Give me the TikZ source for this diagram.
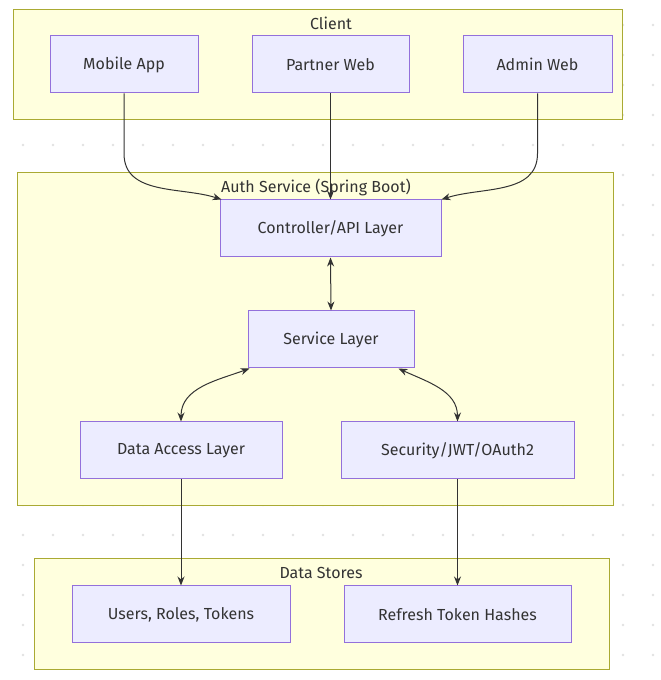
\documentclass[tikz,border=0pt]{standalone}
\usepackage{fontspec}
\setmainfont{Fira Sans}
\usetikzlibrary{arrows.meta}

\definecolor{grpfill}{HTML}{FFFFDE}
\definecolor{grpline}{HTML}{AAAA33}
\definecolor{boxfill}{HTML}{ECECFF}
\definecolor{boxline}{HTML}{9370DB}
\definecolor{inkgray}{HTML}{333333}
\definecolor{dotgray}{HTML}{E2E2E2}

\begin{document}
\begin{tikzpicture}[x=1pt,y=1pt,
  group/.style={draw=grpline, fill=grpfill, line width=1pt},
  grouptitle/.style={text=inkgray, font=\fontsize{16}{18}\selectfont},
  layer/.style={draw=boxline, fill=boxfill, line width=1pt, text=inkgray,
    minimum height=57pt, inner sep=0pt, font=\fontsize{16}{18}\selectfont},
  arr/.style={draw=inkgray, line width=1pt, -{Stealth[length=9pt,width=7pt]}},
  twoway/.style={draw=inkgray, line width=1pt, {Stealth[length=9pt,width=7pt]}-{Stealth[length=9pt,width=7pt]}}]
\useasboundingbox (0,0) rectangle (661,680);
\fill[white] (0,0) rectangle (661,680);

% background dots
\foreach \x in {23,53,...,653}
  \foreach \y in {25,55,...,655}
    \fill[dotgray] (\x,\y) circle (1.3pt);

% groups
\draw[group] (13,560) rectangle (622,670);
\node[grouptitle] (clienttitle) at (331,657) {Client};
\draw[group] (17,174) rectangle (613,507);
\node[grouptitle] (authtitle) at (316,493) {Auth Service (Spring Boot)};
\draw[group] (34,10) rectangle (609,121);
\node[grouptitle] (storetitle) at (321,107) {Data Stores};

% layers
\node[layer, minimum width=148pt] (mobile) at (124,615.5) {Mobile App};
\node[layer, minimum width=157pt] (partner) at (330.5,615.5) {Partner Web};
\node[layer, minimum width=149pt] (admin) at (537.5,615.5) {Admin Web};
\node[layer, minimum width=221pt] (ctrl) at (330.5,451.5) {Controller/API Layer};
\node[layer, minimum width=166pt] (svc) at (331,340.5) {Service Layer};
\node[layer, minimum width=202pt] (dal) at (181,229.5) {Data Access Layer};
\node[layer, minimum width=233pt] (sec) at (457.5,229.5) {Security/JWT/OAuth2};
\node[layer, minimum width=218pt] (users) at (181,65.5) {Users, Roles, Tokens};
\node[layer, minimum width=227pt] (refresh) at (457.5,65.5) {Refresh Token Hashes};

% connectors
\draw[arr] (mobile.south) -- ++(0,-60) to[out=-90,in=162] ([xshift=2pt]ctrl.north west);
\draw[arr] (partner.south) -- (partner.south |- ctrl.north);
\draw[arr] (admin.south) -- ++(0,-60) to[out=-90,in=18] (ctrl.north east);
\draw[twoway] (ctrl.south) -- (svc.north);
\draw[twoway] ([xshift=2pt]svc.south west) to[out=200,in=90] (dal.north);
\draw[twoway] ([xshift=-16pt]svc.south east) to[out=-25,in=90] (sec.north);
\draw[arr] (dal.south) -- (users.north);
\draw[arr] (sec.south) -- (refresh.north);

\end{tikzpicture}
\end{document}
